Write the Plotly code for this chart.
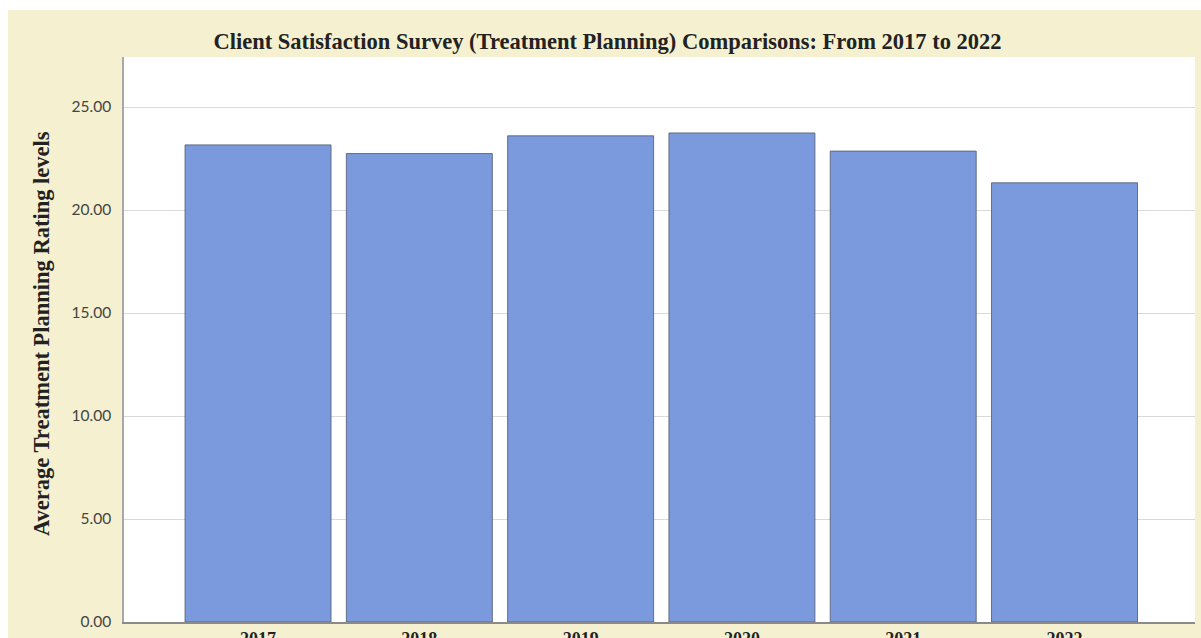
import plotly.graph_objects as go

years = ["2017", "2018", "2019", "2020", "2021", "2022"]
ratings = [23.16, 22.74, 23.60, 23.74, 22.86, 21.32]
y_ticks = [0, 5, 10, 15, 20, 25]
y_tick_labels = ["0.00", "5.00", "10.00", "15.00", "20.00", "25.00"]

W, H = 1201, 638
L, R, T, B = 124, 6, 57, 16
pw, ph = W - L - R, H - T - B

beige = "#f5f1d0"
serif = "Liberation Serif, Times New Roman, serif"

fig = go.Figure(go.Bar(
    x=years, y=ratings,
    marker=dict(color="#7b99dd", line=dict(color="rgba(85,95,115,0.85)", width=1)),
))

def px_x(p):
    return (p - L) / pw

def px_y(p):
    return (H - B - p) / ph

fig.update_layout(
    width=W, height=H,
    margin=dict(l=L, r=R, t=T, b=B, autoexpand=False),
    paper_bgcolor=beige,
    plot_bgcolor="white",
    bargap=0.095,
    showlegend=False,
    title=dict(
        text="Client Satisfaction Survey (Treatment Planning) Comparisons: From 2017 to 2022",
        font=dict(family=serif, size=22.5, color="#222", weight="bold"),
        x=607.5 / W, xanchor="center", xref="container",
        y=1 - 41 / H, yanchor="middle", yref="container",
    ),
    xaxis=dict(
        type="category", range=[-0.831, 5.809], automargin=False,
        showgrid=False, showline=True, linecolor="#8a8a8a", linewidth=1.5,
        ticks="", tickfont=dict(family=serif, size=18, color="#222", weight="bold"),
        ticklabelstandoff=0,
    ),
    yaxis=dict(
        range=[0, (H - B - T) / 20.6], automargin=False,
        tickvals=y_ticks, ticktext=y_tick_labels,
        showgrid=True, gridcolor="#d9d9d9", gridwidth=1,
        showline=True, linecolor="#a8a8a8", linewidth=1.5,
        zeroline=False,
        tickfont=dict(family="Lato, sans-serif", size=15.5, color="#444"),
        ticks="", ticklabelstandoff=8,
    ),
    annotations=[dict(
        text="Average Treatment Planning Rating levels",
        xref="paper", yref="paper", x=px_x(41), y=px_y(334),
        xanchor="center", yanchor="middle", textangle=-90, showarrow=False,
        font=dict(family=serif, size=22.5, color="#222", weight="bold"),
    )],
    shapes=[
        dict(type="rect", xref="paper", yref="paper", x0=px_x(-5), x1=px_x(W + 5),
             y0=px_y(10), y1=px_y(-5), fillcolor="white", line=dict(width=0), layer="above"),
        dict(type="rect", xref="paper", yref="paper", x0=px_x(-5), x1=px_x(8),
             y0=px_y(H + 5), y1=px_y(-5), fillcolor="white", line=dict(width=0), layer="above"),
    ],
)

fig.write_html(
    "out.html",
    config={"displayModeBar": False},
    post_script="document.body.style.margin='0px';document.body.style.overflow='hidden';",
)
